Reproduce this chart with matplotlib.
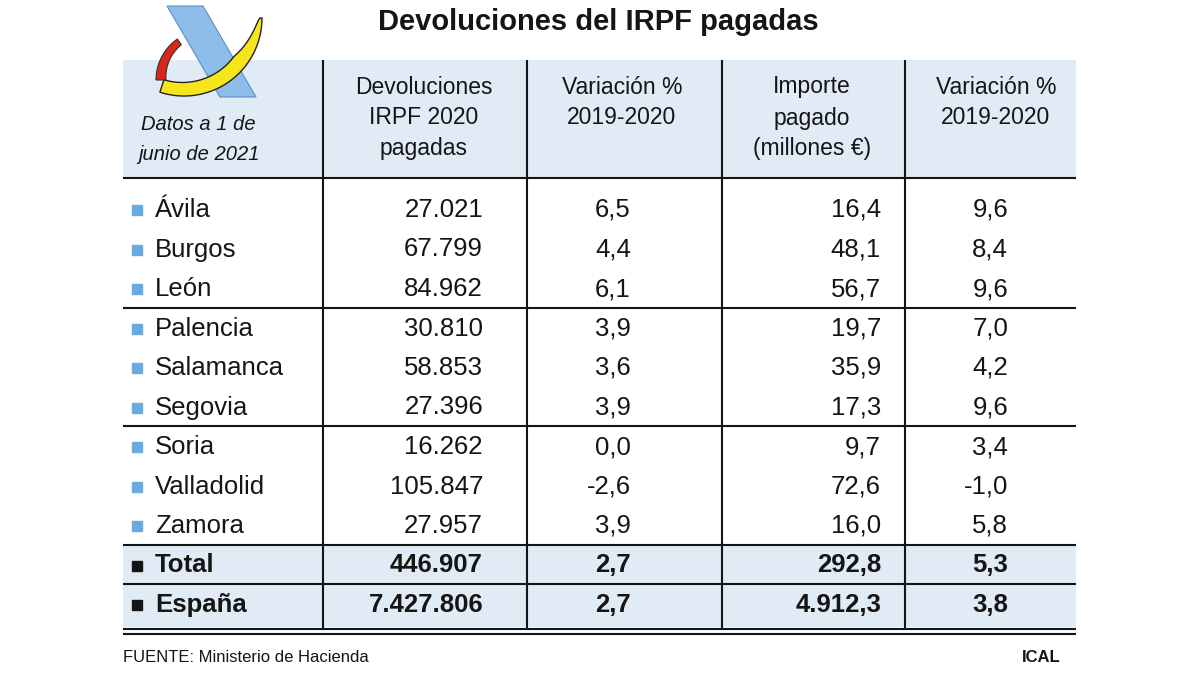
import matplotlib.pyplot as plt
import numpy as np
from matplotlib.patches import Polygon, Rectangle

plt.rcParams['font.family'] = ['Liberation Sans', 'DejaVu Sans']

# datos de la tabla
provincias = ["Ávila", "Burgos", "León", "Palencia", "Salamanca",
              "Segovia", "Soria", "Valladolid", "Zamora"]
devoluciones = [27021, 67799, 84962, 30810, 58853, 27396, 16262, 105847, 27957]
var_devol = [6.5, 4.4, 6.1, 3.9, 3.6, 3.9, 0.0, -2.6, 3.9]
importe = [16.4, 48.1, 56.7, 19.7, 35.9, 17.3, 9.7, 72.6, 16.0]
var_importe = [9.6, 8.4, 9.6, 7.0, 4.2, 9.6, 3.4, -1.0, 5.8]

totales = ["Total", "España"]
tot_devol = [446907, 7427806]
tot_var_devol = [2.7, 2.7]
tot_importe = [292.8, 4912.3]
tot_var_importe = [5.3, 3.8]

cabeceras = [["Devoluciones", "IRPF 2020", "pagadas"],
             ["Variación %", "2019-2020"],
             ["Importe", "pagado", "(millones €)"],
             ["Variación %", "2019-2020"]]


def fmt_int(v):
    return f"{v:,}".replace(",", ".")


def fmt_dec(v):
    s = f"{v:,.1f}"
    return s.replace(",", "X").replace(".", ",").replace("X", ".")


fig = plt.figure(figsize=(12, 6.75), dpi=100)
ax = fig.add_axes([0, 0, 1, 1])
ax.set_xlim(0, 1200)
ax.set_ylim(675, 0)
ax.axis('off')

azul_claro = "#e1ebf5"
negro = "#151515"
x0, x1 = 123, 1076
cols = [323, 527, 722, 905]
y_head0, y_head1 = 60, 178
y_first, paso = 209, 39.5

# filas
nfil = len(provincias) + len(totales)
yc = [y_first + i * paso for i in range(nfil)]
sep = [(yc[i] + yc[i + 1]) / 2 for i in range(nfil - 1)]
y_fin = yc[-1] + 23

# fondos
ax.add_patch(Rectangle((x0, y_head0), x1 - x0, y_head1 - y_head0,
                       color=azul_claro, lw=0, zorder=0))
ax.add_patch(Rectangle((x0, sep[8]), x1 - x0, y_fin - sep[8],
                       color=azul_claro, lw=0, zorder=0))

# líneas
lw = 1.5
ax.hlines([y_head1, sep[2], sep[5], sep[8], sep[9]], x0, x1, color=negro, lw=lw, zorder=2)
ax.hlines([y_fin + 2, y_fin + 7], x0, x1, color=negro, lw=lw, zorder=2)
ax.vlines(cols, y_head0, y_fin + 2, color=negro, lw=lw, zorder=2)

# cabeceras
centros = [424, 622, 812, 996]
for cx, lineas in zip(centros, cabeceras):
    for j, t in enumerate(lineas):
        ax.text(cx, 87 + 31 * j, t, ha='center', va='center', fontsize=16.5, color=negro)
ax.text(198, 125, "Datos a 1 de", ha='center', va='center', fontsize=14.5,
        style='italic', color=negro)
ax.text(199, 154, "junio de 2021", ha='center', va='center', fontsize=14.5,
        style='italic', color=negro)

# cuerpo
xs_num = [483, 631, 881, 1008]
for i, nombre in enumerate(provincias):
    y = yc[i] + 1
    ax.plot(137, y, marker='s', ms=7, color="#6aaade", mec="#6aaade", zorder=3)
    ax.text(155, y, nombre, ha='left', va='center', fontsize=18.5, color=negro)
    vals = [fmt_int(devoluciones[i]), fmt_dec(var_devol[i]),
            fmt_dec(importe[i]), fmt_dec(var_importe[i])]
    for xv, v in zip(xs_num, vals):
        ax.text(xv, y, v, ha='right', va='center', fontsize=18.5, color=negro)

for k, nombre in enumerate(totales):
    y = yc[len(provincias) + k] + 1
    ax.plot(137, y, marker='s', ms=7, color=negro, zorder=3)
    ax.text(155, y, nombre, ha='left', va='center', fontsize=18.5,
            fontweight='bold', color=negro)
    vals = [fmt_int(tot_devol[k]), fmt_dec(tot_var_devol[k]),
            fmt_dec(tot_importe[k]), fmt_dec(tot_var_importe[k])]
    for xv, v in zip(xs_num, vals):
        ax.text(xv, y, v, ha='right', va='center', fontsize=18.5,
                fontweight='bold', color=negro)

# título y pie
ax.text(598, 22, "Devoluciones del IRPF pagadas", ha='center', va='center',
        fontsize=21, fontweight='bold', color=negro)
ax.text(123, 657, "FUENTE: Ministerio de Hacienda", ha='left', va='center',
        fontsize=12, color=negro)
ax.text(1061, 657, "ICAL", ha='right', va='center', fontsize=12,
        fontweight='bold', color=negro)

# logo de la Agencia Tributaria
ax.add_patch(Polygon([(167, 6), (203, 6), (256, 97), (220, 97)], closed=True,
                     fc="#8dbde9", ec="#5e90c2", lw=0.8, zorder=4))

t = np.linspace(0, 1, 80)
ang = np.radians(0 + t * 108)
r_out = 78
ancho = np.where(t < 0.35, 2 + 13 * (t / 0.35) ** 0.7, 15 - 3 * (t - 0.35))
r_in = r_out - ancho
cx, cy = 184, 18
outer = np.column_stack([cx + r_out * np.cos(ang), cy + r_out * np.sin(ang)])
inner = np.column_stack([cx + r_in * np.cos(ang), cy + r_in * np.sin(ang)])[::-1]
ax.add_patch(Polygon(np.vstack([outer, inner]), closed=True,
                     fc="#f7e51c", ec="#222222", lw=1.0, zorder=5))

ang = np.radians(180 + t * 55)
r_out = 50
r_in = r_out - (10 - 3 * t)
cx, cy = 206, 80
outer = np.column_stack([cx + r_out * np.cos(ang), cy + r_out * np.sin(ang)])
inner = np.column_stack([cx + r_in * np.cos(ang), cy + r_in * np.sin(ang)])[::-1]
ax.add_patch(Polygon(np.vstack([outer, inner]), closed=True,
                     fc="#d8261c", ec="#333333", lw=0.8, zorder=5))

fig.savefig("out.png", dpi=100)
